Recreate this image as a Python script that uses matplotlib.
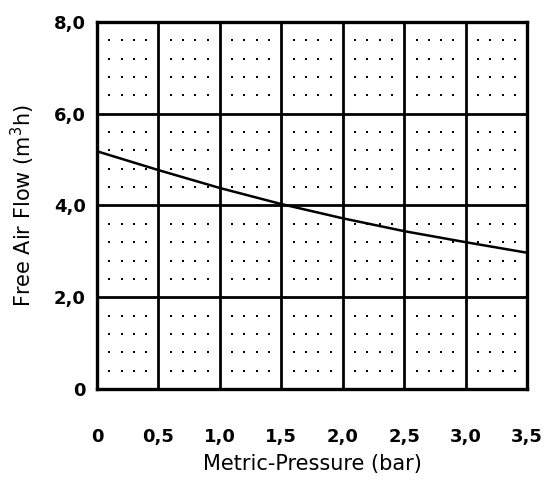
import numpy as np
import matplotlib.pyplot as plt

PRESSURE = [0.0, 0.5, 1.0, 1.5, 2.0, 2.5, 3.0, 3.5]
FLOW = [5.18, 4.77, 4.38, 4.03, 3.72, 3.44, 3.20, 2.97]
X_TICKS = [0, 0.5, 1.0, 1.5, 2.0, 2.5, 3.0, 3.5]
X_LABELS = ['0', '0,5', '1,0', '1,5', '2,0', '2,5', '3,0', '3,5']
Y_TICKS = [0, 2.0, 4.0, 6.0, 8.0]
Y_LABELS = ['0', '2,0', '4,0', '6,0', '8,0']

fig = plt.figure(figsize=(5.48, 4.84), dpi=100)
ax = fig.add_axes([0.177, 0.196, 0.785, 0.759])
ax.set_xlim(0, 3.5)
ax.set_ylim(0, 8)

# dotted background: dots every 0.1 bar / 0.4 m3/h, skipping the major lines
xs = [x for x in np.arange(1, 35) / 10 if round(x * 10) % 5 != 0]
ys = [y for y in np.arange(1, 20) * 0.4 if round(y * 10) % 20 != 0]
gx, gy = np.meshgrid(xs, ys)
ax.scatter(gx.ravel(), gy.ravel(), s=4.5, marker='s', color='black', linewidths=0)

for x in X_TICKS[1:-1]:
    ax.axvline(x, color='black', lw=2.0)
for y in Y_TICKS[1:-1]:
    ax.axhline(y, color='black', lw=2.0)

ax.plot(PRESSURE, FLOW, color='black', lw=1.8)

for side in ax.spines.values():
    side.set_linewidth(2.4)

ax.set_xticks(X_TICKS, X_LABELS)
ax.set_yticks(Y_TICKS, Y_LABELS)
ax.tick_params(axis='x', length=0, pad=28, labelsize=13)
ax.tick_params(axis='y', length=0, pad=8, labelsize=13)
for lbl in ax.get_xticklabels() + ax.get_yticklabels():
    lbl.set_fontweight('bold')

ax.set_xlabel('Metric-Pressure (bar)', fontsize=15, labelpad=6)
ax.set_ylabel('Free Air Flow (m$^3$h)', fontsize=15, labelpad=12)

fig.savefig('out.png', dpi=100)
